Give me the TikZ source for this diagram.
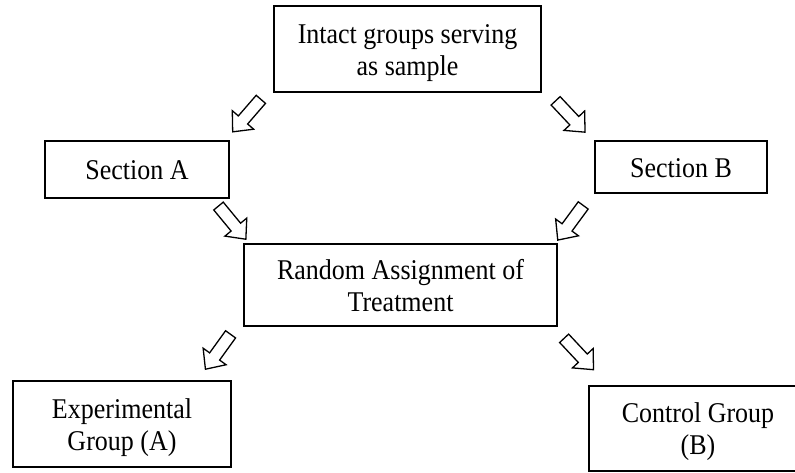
\documentclass[tikz,border=0pt]{standalone}
\usepackage{fontspec}
\usepackage{graphicx}
\setmainfont{Liberation Serif}
\usetikzlibrary{shapes.arrows}
\newcommand{\boxtext}[1]{\scalebox{1}[1.1]{\begin{tabular}{@{}c@{}}#1\end{tabular}}}
\begin{document}
\begin{tikzpicture}[x=1pt,y=1pt,
  box/.style={draw=black, line width=1.4pt, rectangle, inner sep=0pt},
  txt/.style={inner sep=0pt, yshift=-4pt, font=\fontsize{26}{29}\selectfont},
  barrow/.style={draw=black, line width=1.3pt, shape=single arrow, inner xsep=0pt, inner ysep=5.5pt,
    minimum height=43pt, minimum width=27pt, single arrow head extend=8pt,
    single arrow tip angle=84, single arrow head indent=0pt}]
\useasboundingbox (0,0) rectangle (795,-472);
\clip (0,0) rectangle (795,-472);
\node[box, minimum width=267pt, minimum height=86pt, label={[txt]center:\boxtext{Intact groups serving\\as sample}}] (top) at (407.5,-49) {};
\node[box, minimum width=184pt, minimum height=57pt, label={[txt]center:\boxtext{Section A}}] (secA) at (137,-169.5) {};
\node[box, minimum width=172pt, minimum height=52pt, label={[txt]center:\boxtext{Section B}}] (secB) at (681,-167) {};
\node[box, minimum width=313pt, minimum height=82pt, label={[txt]center:\boxtext{Random Assignment of\\Treatment}}] (rand) at (400.5,-285) {};
\node[box, minimum width=218pt, minimum height=86pt, label={[txt]center:\boxtext{Experimental\\Group (A)}}] (exp) at (122,-424) {};
\node[box, minimum width=221pt, minimum height=85pt, label={[txt,xshift=-1.5pt]center:\boxtext{Control Group\\(B)}}] (ctrl) at (699.5,-428.5) {};
\node[barrow, rotate=-130.9] (ar1) at (249,-113) {};
\node[barrow, rotate=-46.8] (ar2) at (568,-114) {};
\node[barrow, rotate=-50.5] (ar3) at (230,-220) {};
\node[barrow, rotate=-126.3] (ar4) at (572.5,-220) {};
\node[barrow, rotate=-125.8] (ar5) at (220,-349) {};
\node[barrow, rotate=-46.9] (ar6) at (576.5,-351.5) {};
\end{tikzpicture}
\end{document}
